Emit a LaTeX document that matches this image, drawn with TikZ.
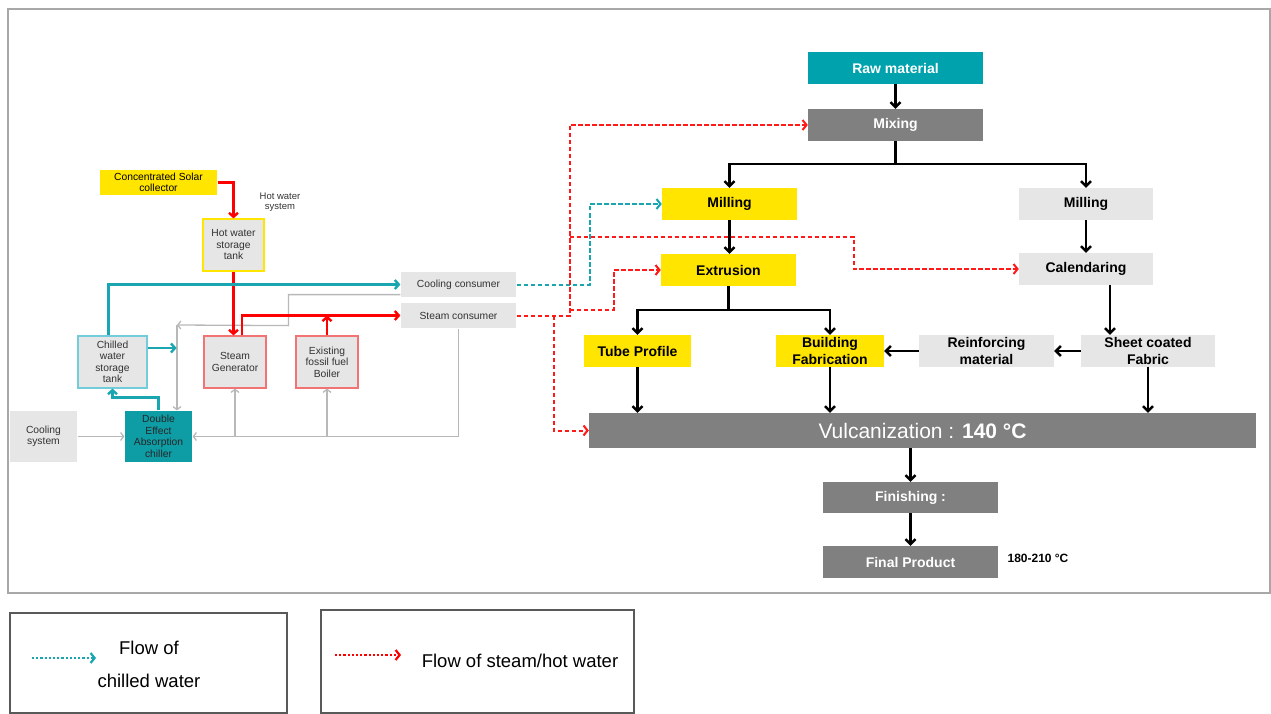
\documentclass[tikz,border=0pt]{standalone}
\usepackage{fontspec}
\setmainfont{Liberation Sans}
\usetikzlibrary{arrows.meta,calc}
\definecolor{YellowClr}{rgb}{1,0.898,0}
\definecolor{TealClr}{rgb}{0,0.639,0.678}
\definecolor{ChillerClr}{rgb}{0.055,0.612,0.647}
\definecolor{ProcClr}{rgb}{0.5,0.5,0.5}
\definecolor{LightClr}{rgb}{0.902,0.902,0.902}
\definecolor{FrameClr}{rgb}{0.66,0.66,0.66}
\definecolor{LegClr}{rgb}{0.35,0.35,0.35}
\definecolor{PipeClr}{rgb}{0.72,0.72,0.72}
\definecolor{RedClr}{rgb}{1,0,0}
\definecolor{DashRedClr}{rgb}{1,0.1,0.1}
\definecolor{LineTealClr}{rgb}{0.1,0.65,0.69}
\definecolor{TankTealClr}{rgb}{0.45,0.8,0.85}
\definecolor{SoftRedClr}{rgb}{0.95,0.45,0.45}
\definecolor{TxtClr}{rgb}{0.2,0.2,0.2}

\tikzset{
  unit/.style={inner sep=0pt,align=center,text=TxtClr,fill=LightClr,line width=1.2pt,
    font=\fontsize{10.3}{11.5}\selectfont},
  stage/.style={inner sep=0pt,align=center,minimum height=32pt,
    font=\fontsize{14}{17}\selectfont\bfseries},
  flow/.style={line width=2.4pt,-{Straight Barb[length=5pt,width=10pt]}},
  hotpipe/.style={draw=RedClr,line width=2.4pt,-{Straight Barb[length=4pt,width=9pt]}},
  coldpipe/.style={draw=LineTealClr,line width=2.4pt,-{Straight Barb[length=4pt,width=9pt]}},
  returnpipe/.style={draw=PipeClr,line width=1.3pt,-{Straight Barb[length=3pt,width=8pt]}},
  hotdash/.style={draw=DashRedClr,line width=2pt,dash pattern=on 4.5pt off 2.5pt,
    -{Straight Barb[length=4pt,width=10pt]}},
  colddash/.style={draw=LineTealClr,line width=2pt,dash pattern=on 4.5pt off 2.5pt,
    -{Straight Barb[length=4pt,width=10pt]}}
}

\begin{document}
\begin{tikzpicture}[x=1pt,y=-1pt]
\useasboundingbox (0,0) rectangle (1271,714);
\draw[FrameClr,line width=2pt] (8,9) rectangle (1270,593);

% hot water / cooling system
\node[unit,fill=YellowClr,text=black,minimum width=117pt,minimum height=25pt] (solar) at (158.5,182.5) {Concentrated Solar\\collector};
\node[font=\fontsize{9.5}{10.5}\selectfont,text=TxtClr,align=center] (hwsys) at (280,202) {Hot water\\system};
\node[unit,draw=YellowClr,minimum width=61pt,minimum height=52pt] (hwt) at (233.5,245) {Hot water\\storage\\tank};
\node[unit,draw=TankTealClr,minimum width=69pt,minimum height=52pt] (chill) at (112.5,362) {Chilled\\water\\storage\\tank};
\node[unit,draw=SoftRedClr,minimum width=62pt,minimum height=52pt] (sgen) at (235,362) {Steam\\Generator};
\node[unit,draw=SoftRedClr,minimum width=62pt,minimum height=52pt] (boiler) at (327,362) {Existing\\fossil fuel\\Boiler};
\node[unit,fill=ChillerClr,text=black!85,minimum width=67pt,minimum height=51pt] (chiller) at (158.5,436.5) {Double\\Effect\\Absorption\\chiller};
\node[unit,minimum width=67pt,minimum height=51pt] (coolsys) at (43.5,436.5) {Cooling\\system};
\node[unit,minimum width=115pt,minimum height=25pt] (coolcons) at (458.5,284.5) {Cooling consumer};
\node[unit,minimum width=115pt,minimum height=25pt] (steamcons) at (458.5,315.5) {Steam consumer};

\coordinate (gjoin) at (177,325);
\draw[returnpipe] ($(coolcons.south west)+(0,-3)$) -- ++(-112,0) -- ++(0,31) -- (gjoin);
\draw[returnpipe] (gjoin) -- (gjoin |- chiller.north);
\draw[returnpipe] (steamcons.south) |- (chiller.east);
\draw[returnpipe] (sgen.south |- chiller.east) -- (sgen.south);
\draw[returnpipe] (boiler.south |- chiller.east) -- (boiler.south);
\draw[returnpipe] (coolsys.east) -- (chiller.west);

\draw[hotpipe] (solar.east) -| (hwt.north);
\draw[hotpipe] (hwt.south) -- (hwt.south |- sgen.north);
\draw[hotpipe] ([xshift=7pt]sgen.north) |- (steamcons.west);
\draw[hotpipe] (boiler.north) -- (boiler.north |- steamcons.west);
\draw[coldpipe] ([xshift=-4pt]chill.north) |- (coolcons.west);
\draw[coldpipe] ($(chill.east)+(0,-14)$) -- ++(29,0);
\draw[coldpipe] (chiller.north) -- ++(0,-13) -| (chill.south);

% process line
\node[stage,fill=TealClr,text=white,minimum width=175pt] (raw) at (895.5,68) {Raw material};
\node[stage,fill=ProcClr,text=white,minimum width=175pt] (mix) at (895.5,125) {Mixing};
\node[stage,fill=YellowClr,minimum width=135pt] (millA) at (729.5,204) {Milling};
\node[stage,fill=LightClr,minimum width=134pt] (millB) at (1086,204) {Milling};
\node[stage,fill=YellowClr,minimum width=135pt] (extr) at (728.5,270) {Extrusion};
\node[stage,fill=LightClr,minimum width=134pt] (cal) at (1086,269) {Calendaring};
\node[stage,fill=YellowClr,minimum width=107pt] (tube) at (637.5,351) {Tube Profile};
\node[stage,fill=YellowClr,minimum width=108pt] (build) at (830,351) {Building\\Fabrication};
\node[stage,fill=LightClr,minimum width=135pt] (reinf) at (986.5,351) {Reinforcing\\material};
\node[stage,fill=LightClr,minimum width=134pt] (sheet) at (1148,351) {Sheet coated\\Fabric};
\node[stage,fill=ProcClr,text=white,minimum width=667pt,minimum height=35pt,font=\fontsize{21}{24}\selectfont] (vulc) at (922.5,430.5) {Vulcanization : \textbf{140 °C}};
\node[stage,fill=ProcClr,text=white,minimum width=175pt,minimum height=31pt] (fin) at (910.5,497.5) {Finishing :};
\node[stage,fill=ProcClr,text=white,minimum width=175pt] (final) at (910.5,562) {Final Product};
\node[font=\fontsize{12}{14}\selectfont\bfseries] (temp) at (1038,558) {180-210 °C};

\draw[flow] (raw.south) -- (mix.north);
\draw[flow] (mix.south) -- ++(0,23) -| (millA.north);
\draw[flow] (mix.south) -- ++(0,23) -| (millB.north);
\draw[flow] (millA.south) -- (millA.south |- extr.north);
\draw[flow] (millB.south) -- (cal.north);
\draw[flow] (extr.south) -- ++(0,24) -| (tube.north);
\draw[flow] (extr.south) -- ++(0,24) -| (build.north);
\draw[flow] ([xshift=24pt]cal.south) -- ([xshift=-38pt]sheet.north);
\draw[flow] (sheet.west) -- (reinf.east);
\draw[flow] (reinf.west) -- (build.east);
\draw[flow] (tube.south) -- (tube.south |- vulc.north);
\draw[flow] (build.south) -- (build.south |- vulc.north);
\draw[flow] (sheet.south) -- (sheet.south |- vulc.north);
\draw[flow] (fin.north |- vulc.south) -- (fin.north);
\draw[flow] (fin.south) -- (final.north);

% steam and chilled water supply
\coordinate (rsplit) at ($(steamcons.east)+(53,-6)$);
\coordinate (rtop) at ($(steamcons.east)+(53,-79)$);
\draw[colddash] (coolcons.east) -- ++(73,0) |- (millA.west);
\draw[hotdash] (steamcons.east) -- ++(53,0) |- (mix.west);
\draw[hotdash] (rsplit) -- ++(44,0) |- (extr.west);
\draw[hotdash] (rtop) -- ++(284,0) |- (cal.west);
\draw[hotdash] ($(steamcons.east)+(37,0)$) |- (vulc.west);

% legend
\node[draw=LegClr,line width=2pt,minimum width=277pt,minimum height=100pt,inner sep=0pt] (legA) at (148.5,663) {};
\node[draw=LegClr,line width=2pt,minimum width=313pt,minimum height=103pt,inner sep=0pt] (legB) at (477.5,661.5) {};
\node[font=\fontsize{18.5}{22}\selectfont,align=center] (legAtxt) at (149,664) {Flow of\\[11pt]chilled water};
\node[font=\fontsize{18.5}{22}\selectfont] (legBtxt) at (520,661) {Flow of steam/hot water};
\draw[LineTealClr,line width=2.2pt,dotted,-{Straight Barb[length=4pt,width=10pt]}] ($(legA.west)+(23,-5)$) -- ++(64,0);
\draw[RedClr,line width=2.2pt,dotted,-{Straight Barb[length=4pt,width=10pt]}] ($(legB.west)+(15,-6.5)$) -- ++(66,0);

\end{tikzpicture}
\end{document}
